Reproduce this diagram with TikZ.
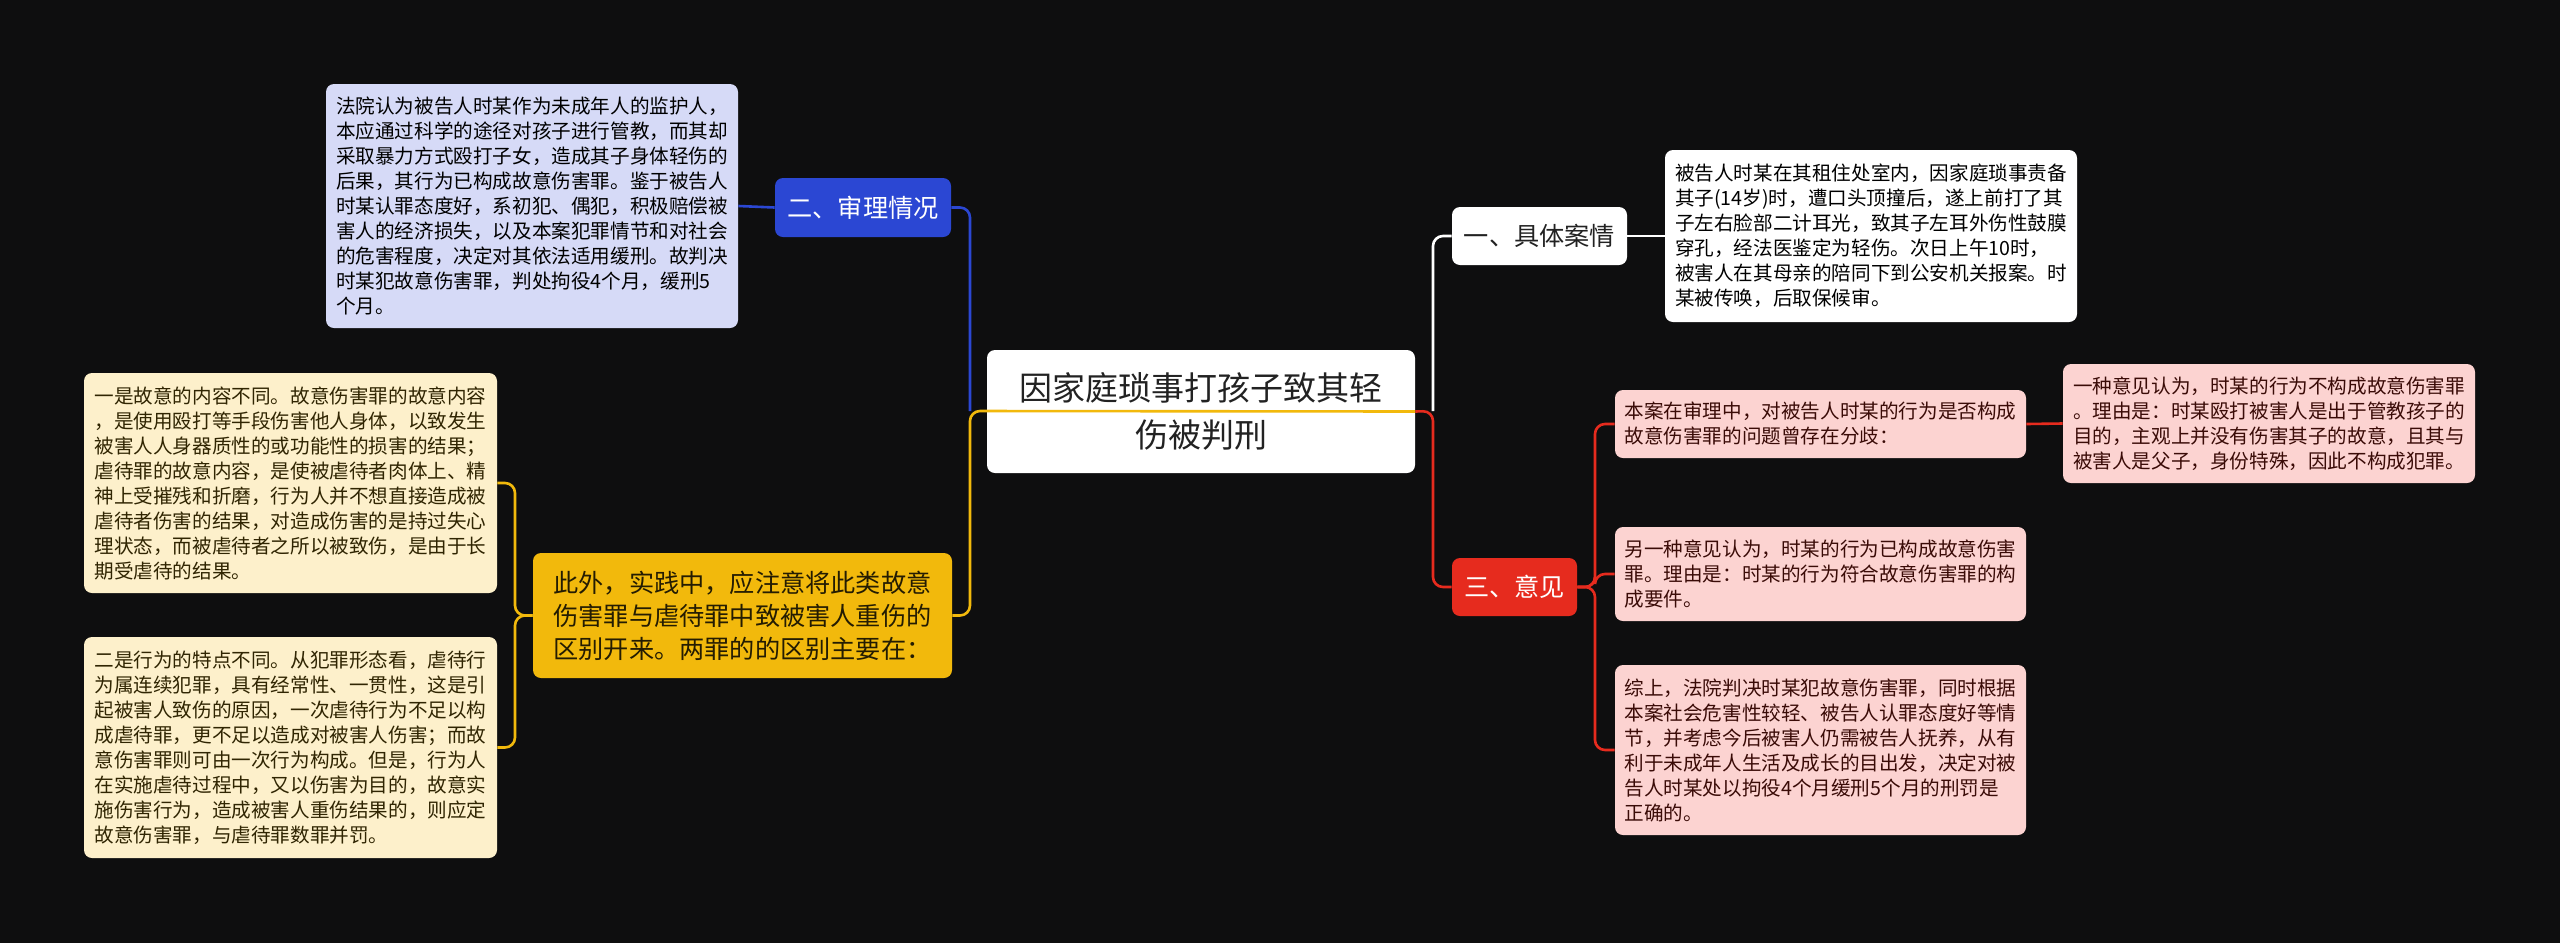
\documentclass[tikz,border=0pt]{standalone}
\usepackage{fontspec}
\setmainfont{Noto Sans CJK SC}
\definecolor{bgc}{HTML}{0E0E0F}
\definecolor{bluec}{HTML}{2B47D3}
\definecolor{bluel}{HTML}{D6DAF7}
\definecolor{yelc}{HTML}{F2B90C}
\definecolor{yell}{HTML}{FDF0CB}
\definecolor{redc}{HTML}{E62B1E}
\definecolor{redl}{HTML}{FCD3D1}
\definecolor{ink}{HTML}{222222}
\newcommand\smallcn{\fontsize{9.8pt}{12.5pt}\selectfont}
\newcommand\midcn{\fontsize{12.6pt}{16.5pt}\selectfont}
\begin{document}
\begin{tikzpicture}[x=0.5pt,y=-0.5pt,
	box/.style={rounded corners=4pt,inner sep=0pt,align=left},
	rootbox/.style={box,fill=white,text=ink,align=center,font=\fontsize{16.5pt}{23.5pt}\selectfont},
	topic/.style={box,font=\midcn},
	leaf/.style={box,font=\smallcn},
	link/.style={line width=1.3pt,rounded corners=5pt}]
	\fill[bgc] (0,0) rectangle (2560,943);
	% centre
	\node[rootbox,minimum width=214pt,minimum height=61.5pt] (root) at (1201,411.5) {因家庭琐事打孩子致其轻\\伤被判刑};
	% left side
	\node[topic,fill=bluec,text=white,minimum width=88pt,minimum height=29.5pt] (shen) at (863,207.5) {二、审理情况};
	\node[leaf,fill=bluel,text=black,minimum width=206pt,minimum height=122pt] (shenA) at (532,206) {法院认为被告人时某作为未成年人的监护人，\\本应通过科学的途径对孩子进行管教，而其却\\采取暴力方式殴打子女，造成其子身体轻伤的\\后果，其行为已构成故意伤害罪。鉴于被告人\\时某认罪态度好，系初犯、偶犯，积极赔偿被\\害人的经济损失，以及本案犯罪情节和对社会\\的危害程度，决定对其依法适用缓刑。故判决\\时某犯故意伤害罪，判处拘役4个月，缓刑5\\个月。};
	\node[topic,fill=yelc,text=black!85!yelc,minimum width=209.5pt,minimum height=62.5pt] (qubie) at (742.5,615.5) {此外，实践中，应注意将此类故意\\伤害罪与虐待罪中致被害人重伤的\\区别开来。两罪的的区别主要在：};
	\node[leaf,fill=yell,text=black!80!yelc,minimum width=206.5pt,minimum height=110pt] (qubieA) at (290.5,483) {一是故意的内容不同。故意伤害罪的故意内容\\，是使用殴打等手段伤害他人身体，以致发生\\被害人人身器质性的或功能性的损害的结果；\\虐待罪的故意内容，是使被虐待者肉体上、精\\神上受摧残和折磨，行为人并不想直接造成被\\虐待者伤害的结果，对造成伤害的是持过失心\\理状态，而被虐待者之所以被致伤，是由于长\\期受虐待的结果。};
	\node[leaf,fill=yell,text=black!80!yelc,minimum width=206.5pt,minimum height=110.5pt] (qubieB) at (290.5,747.5) {二是行为的特点不同。从犯罪形态看，虐待行\\为属连续犯罪，具有经常性、一贯性，这是引\\起被害人致伤的原因，一次虐待行为不足以构\\成虐待罪，更不足以造成对被害人伤害；而故\\意伤害罪则可由一次行为构成。但是，行为人\\在实施虐待过程中，又以伤害为目的，故意实\\施伤害行为，造成被害人重伤结果的，则应定\\故意伤害罪，与虐待罪数罪并罚。};
	% right side
	\node[topic,fill=white,text=ink,minimum width=87.5pt,minimum height=29pt] (anqing) at (1539.5,236) {一、具体案情};
	\node[leaf,fill=white,text=black,minimum width=206pt,minimum height=86pt] (anqingA) at (1871,236) {被告人时某在其租住处室内，因家庭琐事责备\\其子(14岁)时，遭口头顶撞后，遂上前打了其\\子左右脸部二计耳光，致其子左耳外伤性鼓膜\\穿孔，经法医鉴定为轻伤。次日上午10时，\\被害人在其母亲的陪同下到公安机关报案。时\\某被传唤，后取保候审。};
	\node[topic,fill=redc,text=white,minimum width=62.5pt,minimum height=29pt] (yijian) at (1514.5,587) {三、意见};
	\node[leaf,fill=redl,text=black!75!redc,minimum width=205.5pt,minimum height=34pt] (yijianA) at (1820.5,424) {本案在审理中，对被告人时某的行为是否构成\\故意伤害罪的问题曾存在分歧：};
	\node[leaf,fill=redl,text=black!75!redc,minimum width=206pt,minimum height=59.5pt] (yijianA1) at (2269,423.5) {一种意见认为，时某的行为不构成故意伤害罪\\。理由是：时某殴打被害人是出于管教孩子的\\目的，主观上并没有伤害其子的故意，且其与\\被害人是父子，身份特殊，因此不构成犯罪。};
	\node[leaf,fill=redl,text=black!75!redc,minimum width=205.5pt,minimum height=47pt] (yijianB) at (1820.5,574) {另一种意见认为，时某的行为已构成故意伤害\\罪。理由是：时某的行为符合故意伤害罪的构\\成要件。};
	\node[leaf,fill=redl,text=black!75!redc,minimum width=205.5pt,minimum height=85pt] (yijianC) at (1820.5,750) {综上，法院判决时某犯故意伤害罪，同时根据\\本案社会危害性较轻、被告人认罪态度好等情\\节，并考虑今后被害人仍需被告人抚养，从有\\利于未成年人生活及成长的目出发，决定对被\\告人时某处以拘役4个月缓刑5个月的刑罚是\\正确的。};
	% connectors
	\coordinate (lj) at (970,411);
	\coordinate (rj) at (1433,411);
	\coordinate (yj) at (515,615.5);
	\coordinate (oj) at (1595,587);
	\draw[link,yelc] (root.east) -- (lj) |- (qubie.east);
	\draw[link,bluec] (lj) |- (shen.east);
	\draw[link,bluec] (shen.west) -- (shenA.east);
	\draw[link,yelc] (qubie.west) -- (yj) |- (qubieA.east);
	\draw[link,yelc] (qubie.west) -- (yj) |- (qubieB.east);
	\draw[link,white] (rj) |- (anqing.west);
	\draw[link,white] (anqing.east) -- (anqingA.west);
	\draw[link,redc] (root.east) -- (rj) |- (yijian.west);
	\foreach \leafname in {yijianA,yijianB,yijianC}
	\draw[link,redc] (yijian.east) -- (oj) |- (\leafname.west);
	\draw[link,redc] (yijianA.east) -- (yijianA1.west);
\end{tikzpicture}
\end{document}
